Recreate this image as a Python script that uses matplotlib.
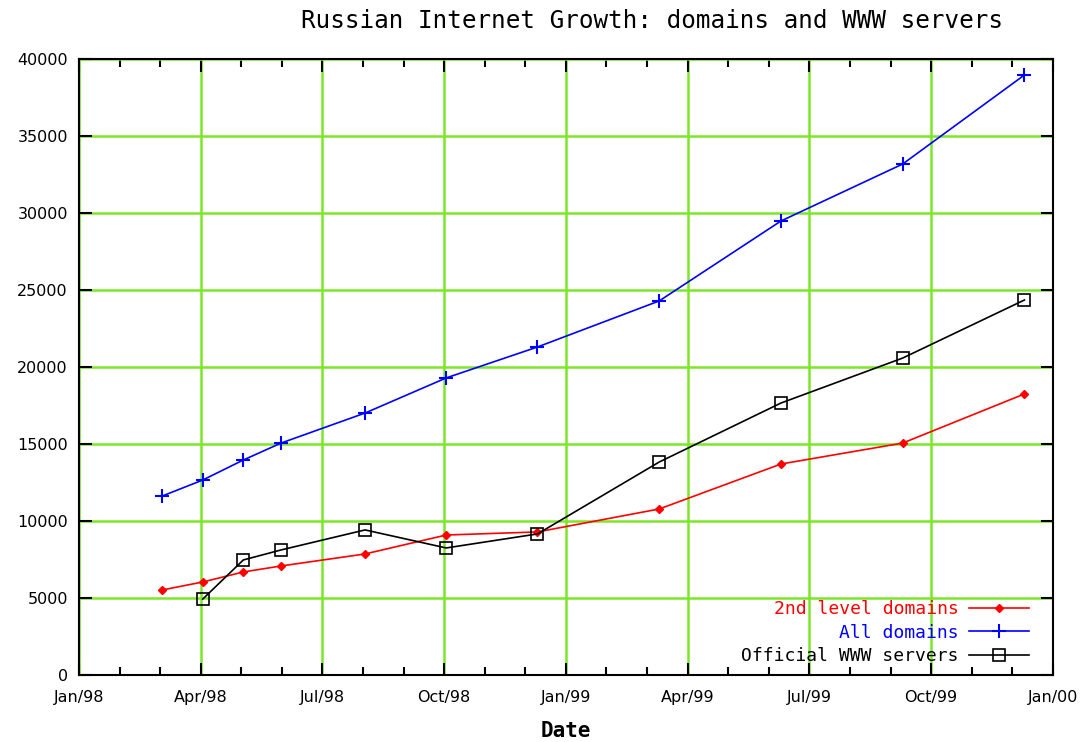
import matplotlib
matplotlib.use("Agg")
from matplotlib import pyplot as plt
from matplotlib.ticker import MultipleLocator

# months since Jan/98
months = [2.05, 3.05, 4.05, 4.98, 7.05, 9.05, 11.3, 14.3, 17.3, 20.3, 23.3]
second_level = [5520, 6040, 6690, 7080, 7860, 9090, 9290, 10780, 13700, 15060, 18250]
all_domains = [11620, 12660, 13960, 15060, 17010, 19290, 21300, 24290, 29480, 33180, 38960]
www_months = [3.05, 4.05, 4.98, 7.05, 9.05, 11.3, 14.3, 17.3, 20.3, 23.3]
www_servers = [4930, 7470, 8120, 9420, 8250, 9160, 13830, 17660, 20580, 24350]

tick_labels = ["Jan/98", "Apr/98", "Jul/98", "Oct/98", "Jan/99",
               "Apr/99", "Jul/99", "Oct/99", "Jan/00"]

fig = plt.figure(figsize=(10.91, 7.42), dpi=100)
ax = fig.add_axes([0.0724, 0.0903, 0.8926, 0.8302])

ax.plot(months, second_level, color='red', lw=1.2, marker='D', ms=4.5,
        label='2nd level domains')
ax.plot(months, all_domains, color='blue', lw=1.2, marker='+', ms=10, mew=1.5,
        label='All domains')
ax.plot(www_months, www_servers, color='black', lw=1.2, marker='s', ms=8,
        mfc='none', mew=1.2, label='Official WWW servers')

ax.set_xlim(0, 24)
ax.set_ylim(0, 40000)
ax.set_xticks(range(0, 25, 3))
ax.set_xticklabels(tick_labels)
ax.xaxis.set_minor_locator(MultipleLocator(1))
ax.set_yticks(range(0, 40001, 5000))
ax.tick_params(which='both', direction='in', top=True, right=True,
               labelsize=11.5, width=1.5)
ax.tick_params(axis='x', pad=11)
ax.tick_params(axis='y', pad=8)
ax.tick_params(which='major', length=9)
ax.tick_params(which='minor', length=6)
ax.grid(True, which='major', color='#7ce628', lw=1.8)
ax.set_axisbelow(True)
for s in ax.spines.values():
    s.set_linewidth(1.5)

ax.set_xlabel("Date", fontsize=15, fontweight='bold', family='DejaVu Sans Mono',
              labelpad=11)
ax.set_title("Russian Internet Growth: domains and WWW servers",
             fontsize=17.5, family='DejaVu Sans Mono', x=0.588, pad=22)

leg = ax.legend(loc='lower right', bbox_to_anchor=(1 - 14 / 974, 0),
                markerfirst=False, frameon=False,
                labelcolor='linecolor', prop={'family': 'DejaVu Sans Mono', 'size': 13},
                handlelength=3.3, handletextpad=0.6, labelspacing=0.3,
                borderaxespad=0.15)

fig.savefig("out.png")
